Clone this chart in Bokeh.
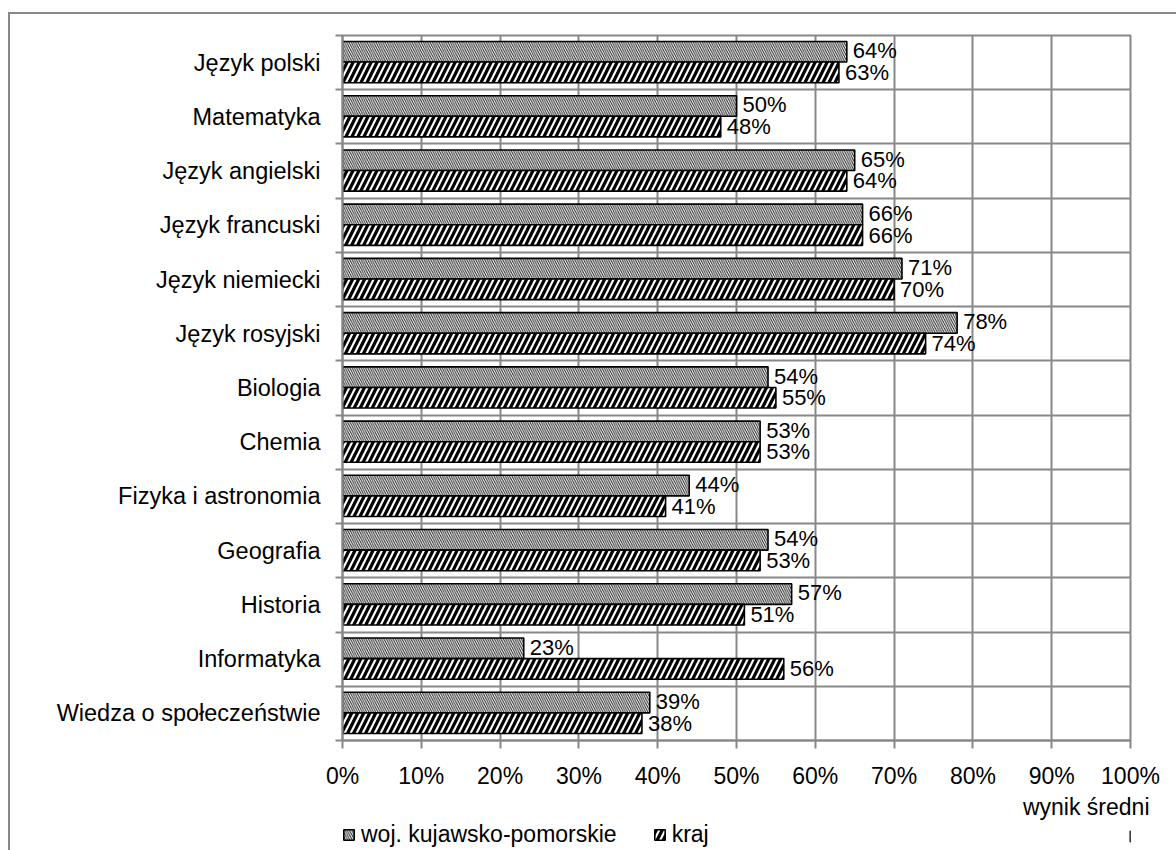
from bokeh.plotting import figure
from bokeh.layouts import column
from bokeh.models import (ColumnDataSource, Range1d, FixedTicker, PrintfTickFormatter,
                          Title, Legend, LegendItem)
from bokeh.transform import dodge
from bokeh.core.properties import value
from bokeh.embed import file_html
from bokeh.resources import INLINE

categories = ["Język polski", "Matematyka", "Język angielski", "Język francuski",
              "Język niemiecki", "Język rosyjski", "Biologia", "Chemia",
              "Fizyka i astronomia", "Geografia", "Historia", "Informatyka",
              "Wiedza o społeczeństwie"]
woj = [64, 50, 65, 66, 71, 78, 54, 53, 44, 54, 57, 23, 39]
kraj = [63, 48, 64, 66, 70, 74, 55, 53, 41, 53, 51, 56, 38]
series_names = ["woj. kujawsko-pomorskie", "kraj"]
x_ticks = list(range(0, 101, 10))
x_title = "wynik średni"

n = len(categories)
ypos = [n - 1 - i + 0.5 for i in range(n)]
src = ColumnDataSource(dict(
    cat=categories, y=ypos, woj=woj, kraj=kraj,
    woj_lbl=[f"{v}%" for v in woj], kraj_lbl=[f"{v}%" for v in kraj],
))

FONT = "Liberation Sans"
GRID = "#888888"
WOJ_STYLE = dict(fill_color="white", line_color="black", line_width=1.6,
                 hatch_pattern="\\", hatch_scale=4.5, hatch_weight=1, hatch_color="#222222")
KRAJ_STYLE = dict(fill_color="white", line_color="black", line_width=1.6,
                  hatch_pattern="/", hatch_scale=12, hatch_weight=3.2, hatch_color="black")

p = figure(width=1168, height=810, output_backend="svg", toolbar_location=None,
           x_range=Range1d(0, 100), y_range=Range1d(0, n),
           min_border_left=334, min_border_right=46, min_border_top=23,
           min_border_bottom=82)
p.outline_line_color = GRID
p.outline_line_width = 2
p.background_fill_color = "white"
p.border_fill_alpha = 0

bh = 0.38
p.hbar(y=dodge("y", 0.2, range=p.y_range), right="woj", left=0, height=bh,
       source=src, **WOJ_STYLE)
p.hbar(y=dodge("y", -0.18, range=p.y_range), right="kraj", left=0, height=bh,
       source=src, **KRAJ_STYLE)

p.text(x="woj", y=dodge("y", 0.22, range=p.y_range), text="woj_lbl", source=src,
       x_offset=6, text_baseline="middle", text_align="left",
       text_font=value(FONT), text_font_size="22px", text_color="black")
p.text(x="kraj", y=dodge("y", -0.18, range=p.y_range), text="kraj_lbl", source=src,
       x_offset=6, text_baseline="middle", text_align="left",
       text_font=value(FONT), text_font_size="22px", text_color="black")

# x axis
xa = p.xaxis[0]
xa.ticker = FixedTicker(ticks=x_ticks)
xa.formatter = PrintfTickFormatter(format="%d%%")
xa.axis_line_color = GRID
xa.axis_line_width = 2
xa.major_tick_line_color = GRID
xa.major_tick_line_width = 2
xa.major_tick_out = 8
xa.major_tick_in = 0
xa.minor_tick_line_color = None
xa.major_label_text_font = FONT
xa.major_label_text_font_size = "23px"
xa.major_label_text_color = "black"
xa.major_label_standoff = 14

# y axis
ya = p.yaxis[0]
ya.ticker = FixedTicker(ticks=ypos, minor_ticks=list(range(0, n + 1)))
ya.major_label_overrides = {y: c for y, c in zip(ypos, categories)}
ya.axis_line_color = GRID
ya.axis_line_width = 2
ya.major_tick_line_color = None
ya.major_tick_out = 0
ya.major_tick_in = 0
ya.minor_tick_line_color = GRID
ya.minor_tick_line_width = 2
ya.minor_tick_out = 7
ya.minor_tick_in = 0
ya.major_label_text_font = FONT
ya.major_label_text_font_size = "23.5px"
ya.major_label_text_color = "black"
ya.major_label_standoff = 15

p.xgrid.grid_line_color = GRID
p.xgrid.grid_line_width = 2
p.ygrid.grid_line_color = None
p.ygrid.minor_grid_line_color = GRID
p.ygrid.minor_grid_line_width = 2

p.add_layout(Title(text=x_title, align="right", offset=-19, standoff=0,
                   text_font=FONT, text_font_size="23px", text_font_style="normal",
                   text_color="black"), "below")

# legend strip: stand-in renderers (one zero-width row far outside the view)
# carry the series styles so that the legend icons are drawn
pl = figure(width=1168, height=28, output_backend="svg", toolbar_location=None,
            x_range=Range1d(0, 100), y_range=Range1d(0, 1),
            x_axis_type=None, y_axis_type=None,
            min_border_left=0, min_border_right=0, min_border_top=0, min_border_bottom=0)
pl.outline_line_color = None
pl.background_fill_alpha = 0
pl.border_fill_alpha = 0
stand_in = ColumnDataSource(dict(y=[0.5], left=[500], right=[500]))
l_woj = pl.hbar(y="y", right="right", left="left", height=bh, source=stand_in, **WOJ_STYLE)
l_kraj = pl.hbar(y="y", right="right", left="left", height=bh, source=stand_in, **KRAJ_STYLE)

legend = Legend(items=[LegendItem(label=series_names[0], renderers=[l_woj]),
                       LegendItem(label=series_names[1], renderers=[l_kraj])],
                orientation="horizontal", location=(0, 2),
                glyph_width=13, glyph_height=13, label_standoff=6, spacing=36,
                label_height=20, padding=0, margin=0, border_line_color=None,
                background_fill_alpha=0, label_text_font=FONT,
                label_text_font_size="23px", label_text_color="black")
pl.add_layout(legend)

layout = column(p, pl, spacing=0,
                styles={"box-shadow": "inset 2px 2px 0 0 #888888",
                        "margin-left": "8px", "margin-top": "12px"})

open("out.html", "w").write(file_html(layout, INLINE))
